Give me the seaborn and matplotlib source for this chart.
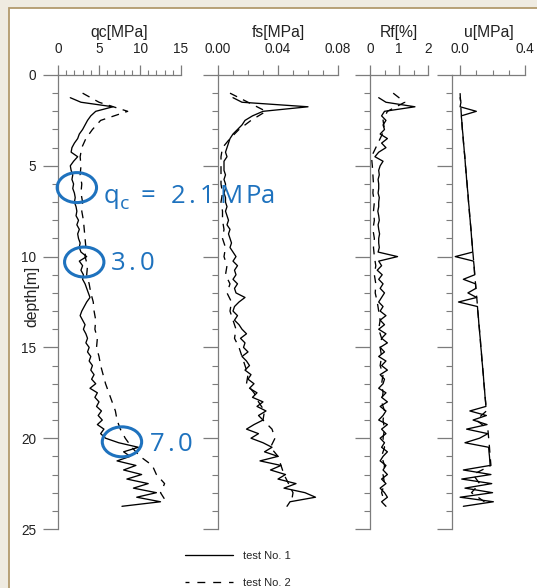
import numpy as np
import pandas as pd
import matplotlib
matplotlib.use("Agg")
import matplotlib.pyplot as plt
import seaborn as sns
from matplotlib.patches import Ellipse, Rectangle
from matplotlib.lines import Line2D
from matplotlib.ticker import MultipleLocator

# ---------------- data ----------------
# test No. 1 : every 0.25 m from 1.25 m to 23.75 m
depth1 = np.round(np.arange(1.25, 23.76, 0.25), 2)
qc1 = [1.5, 2.8, 6.7, 4.6,
       4.0, 3.6, 3.3, 3.0,
       2.6, 2.4, 2.0, 1.7,
       1.6, 2.4, 1.9, 1.5,
       1.6, 1.8, 1.7, 1.9,
       1.8, 2.0, 2.1, 2.0,
       2.2, 2.3, 2.2, 2.5,
       2.3, 2.6, 2.4, 2.5,
       2.7, 2.6, 2.8, 3.5,
       2.6, 3.0, 2.8, 3.1,
       3.0, 3.3, 3.5, 3.7,
       3.9, 3.5, 3.2, 2.9,
       2.7, 3.0, 3.3, 3.1,
       3.4, 3.6, 3.4, 3.8,
       3.6, 4.0, 3.8, 4.2,
       4.0, 4.4, 4.1, 4.6,
       3.9, 4.8, 4.5, 5.0,
       4.7, 5.3, 4.9, 5.4,
       4.8, 5.6, 5.2, 5.8,
       7.4, 9.8, 8.0, 8.8,
       7.2, 9.5, 8.0, 10.2,
       8.4, 11.0, 9.2, 12.0,
       9.6, 12.5, 7.8]
fs1 = [0.010, 0.016, 0.060, 0.030,
       0.023, 0.018, 0.016, 0.013,
       0.010, 0.008, 0.007, 0.006,
       0.005, 0.006, 0.004, 0.004,
       0.004, 0.005, 0.004, 0.005,
       0.005, 0.004, 0.005, 0.005,
       0.006, 0.005, 0.006, 0.007,
       0.006, 0.008, 0.007, 0.008,
       0.009, 0.008, 0.010, 0.012,
       0.010, 0.013, 0.011, 0.012,
       0.010, 0.013, 0.011, 0.012,
       0.018, 0.014, 0.011, 0.010,
       0.013, 0.011, 0.014, 0.016,
       0.019, 0.015, 0.018, 0.017,
       0.020, 0.016, 0.019, 0.021,
       0.018, 0.022, 0.020, 0.024,
       0.021, 0.026, 0.023, 0.030,
       0.026, 0.032, 0.027, 0.030,
       0.024, 0.019, 0.027, 0.022,
       0.030, 0.036, 0.031, 0.040,
       0.028, 0.042, 0.035, 0.045,
       0.040, 0.052, 0.044, 0.058,
       0.065, 0.048, 0.046]
rf1 = [0.30, 0.55, 1.55, 0.50,
       0.40, 0.55, 0.45, 0.50,
       0.35, 0.60, 0.40, 0.55,
       0.30, 0.17, 0.45, 0.35,
       0.30, 0.32, 0.28, 0.30,
       0.30, 0.28, 0.32, 0.30,
       0.30, 0.27, 0.30, 0.32,
       0.28, 0.30, 0.33, 0.30,
       0.30, 0.32, 0.28, 0.95,
       0.30, 0.40, 0.25, 0.42,
       0.30, 0.45, 0.35, 0.50,
       0.40, 0.30, 0.45, 0.35,
       0.55, 0.35, 0.50, 0.30,
       0.55, 0.40, 0.60, 0.35,
       0.50, 0.30, 0.55, 0.40,
       0.60, 0.35, 0.50, 0.45,
       0.30, 0.55, 0.40, 0.60,
       0.35, 0.55, 0.45, 0.30,
       0.60, 0.40, 0.55, 0.35,
       0.50, 0.40, 0.60, 0.45,
       0.35, 0.55, 0.45, 0.60,
       0.40, 0.55, 0.35, 0.50,
       0.60, 0.40, 0.55]
u1 = [0.000, 0.005, 0.000, 0.100,
      0.007, 0.010, 0.012, 0.014,
      0.017, 0.019, 0.021, 0.024,
      0.026, 0.029, 0.031, 0.033,
      0.036, 0.038, 0.040, 0.043,
      0.045, 0.048, 0.050, 0.052,
      0.055, 0.057, 0.059, 0.062,
      0.064, 0.067, 0.069, 0.071,
      0.074, 0.076, 0.078, -0.030,
      0.083, 0.086, 0.088, 0.090,
      0.020, 0.095, 0.097, 0.048,
      0.102, -0.010, 0.107, 0.109,
      0.112, 0.114, 0.116, 0.119,
      0.121, 0.124, 0.126, 0.128,
      0.131, 0.133, 0.135, 0.138,
      0.140, 0.143, 0.145, 0.147,
      0.150, 0.152, 0.154, 0.157,
      0.159, 0.060, 0.162, 0.080,
      0.166, 0.040, 0.171, 0.120,
      0.030, 0.176, 0.178, 0.181,
      0.183, 0.185, 0.020, 0.190,
      0.010, 0.195, 0.030, 0.200,
      0.000, 0.205, 0.020]

# test No. 2 : every 0.5 m from 1.0 m to 23.5 m
depth2 = np.round(np.arange(1.0, 23.51, 0.5), 2)
qc2 = [3.0, 5.0, 8.5, 5.2, 4.2, 3.4, 2.9, 2.7, 2.8, 2.7,
       2.9, 2.8, 3.0, 2.9, 3.1, 3.2, 3.3, 3.4, 3.3, 3.6,
       3.5, 3.8, 4.0, 4.3, 4.4, 4.6, 4.5, 4.8, 4.7, 5.0,
       5.2, 5.5, 5.8, 6.2, 6.6, 7.0, 7.2, 7.6, 8.2, 9.0,
       10.0, 11.5, 12.0, 13.0, 12.5, 13.2]
fs2 = [0.008, 0.020, 0.032, 0.022, 0.014, 0.008, 0.003, 0.002, 0.002, 0.002,
       0.002, 0.003, 0.002, 0.003, 0.003, 0.004, 0.003, 0.005, 0.004, 0.006,
       0.005, 0.008, 0.006, 0.009, 0.008, 0.010, 0.012, 0.011, 0.014, 0.016,
       0.018, 0.020, 0.019, 0.024, 0.027, 0.031, 0.030, 0.036, 0.038, 0.035,
       0.040, 0.042, 0.044, 0.047, 0.050, 0.049]
rf2 = [0.80, 1.20, 0.60, 0.45, 0.50, 0.35, 0.20, 0.05, 0.08, 0.10,
       0.12, 0.10, 0.15, 0.12, 0.15, 0.10, 0.15, 0.12, 0.15, 0.20,
       0.15, 0.20, 0.18, 0.25, 0.30, 0.35, 0.30, 0.40, 0.35, 0.40,
       0.35, 0.45, 0.40, 0.45, 0.40, 0.50, 0.45, 0.50, 0.45, 0.50,
       0.40, 0.50, 0.45, 0.50, 0.40, 0.50]
u2 = [0.000, 0.003, 0.006, 0.010, 0.014, 0.019, 0.024, 0.029, 0.033, 0.038,
      0.043, 0.048, 0.052, 0.057, 0.062, 0.067, 0.071, 0.076, 0.081, 0.086,
      0.090, 0.095, 0.100, 0.105, 0.109, 0.114, 0.119, 0.124, 0.128, 0.133,
      0.138, 0.143, 0.147, 0.152, 0.157, 0.162, 0.100, 0.171, 0.176, 0.181,
      0.185, 0.190, 0.080, 0.120, 0.070, 0.150]

test_names = ["test No. 1", "test No. 2"]
var_labels = ["qc[MPa]", "fs[MPa]", "Rf[%]", "u[MPa]"]
tick_values = [[0, 5, 10, 15], [0.00, 0.04, 0.08], [0, 1, 2], [0.0, 0.4]]
tick_labels = [["0", "5", "10", "15"], ["0.00", "0.04", "0.08"], ["0", "1", "2"], ["0.0", "0.4"]]
annot_texts = ["qc=2.1MPa", "3.0", "7.0"]

# ---------------- build long-form table ----------------
df = pd.concat([
    pd.DataFrame({"depth": depth1, "qc": qc1, "fs": fs1, "rf": rf1, "u": u1, "test": test_names[0]}),
    pd.DataFrame({"depth": depth2, "qc": qc2, "fs": fs2, "rf": rf2, "u": u2, "test": test_names[1]}),
], ignore_index=True)

# ---------------- figure ----------------
sns.set_theme(style="white")
plt.rcParams['font.family'] = ['Liberation Sans', 'DejaVu Sans']

W, H = 537, 588
fig = plt.figure(figsize=(W / 100, H / 100), dpi=100)
fig.patch.set_facecolor('#EFEBE1')
fig.add_artist(Rectangle((9 / W, -0.01), 1.0, 1 - 8 / H + 0.01, transform=fig.transFigure,
                         facecolor='white', edgecolor='#B29A6C', lw=1.3, zorder=0))

TOP, BOT = 75, 529
panels = [(58, 181), (218, 338), (370, 428), (452, 525)]
xlims = [(0, 15), (0, 0.08), (0, 2), (-0.05, 0.4)]
minors = [1, 0.01, 0.5, 0.1]
cols = ["qc", "fs", "rf", "u"]
gray = '#7c7c7c'
txt = '#222222'
dash_map = {test_names[0]: "", test_names[1]: (6, 5)}

axes = []
for i, (x0, x1) in enumerate(panels):
    ax = fig.add_axes([x0 / W, 1 - BOT / H, (x1 - x0) / W, (BOT - TOP) / H])
    ax.set_facecolor('none')
    sns.lineplot(data=df, x=cols[i], y="depth", style="test", dashes=dash_map,
                 color='black', linewidth=0.95, estimator=None, orient='y',
                 legend=False, ax=ax)
    ax.set_xlim(*xlims[i])
    ax.set_ylim(25, 0)
    for s in ['right', 'bottom']:
        ax.spines[s].set_visible(False)
    for s in ['left', 'top']:
        ax.spines[s].set_color(gray)
        ax.spines[s].set_linewidth(0.9)
    ax.xaxis.set_ticks_position('top')
    ax.xaxis.set_label_position('top')
    ax.set_xticks(tick_values[i], tick_labels[i])
    ax.xaxis.set_minor_locator(MultipleLocator(minors[i]))
    ax.set_yticks([0, 5, 10, 15, 20, 25])
    ax.yaxis.set_minor_locator(MultipleLocator(1))
    ax.tick_params(axis='x', which='major', top=True, bottom=False, labeltop=True,
                   labelbottom=False, direction='out', length=7.2, width=0.9,
                   color=gray, pad=6.3, labelsize=9.8, labelcolor=txt)
    ax.tick_params(axis='x', which='minor', top=True, bottom=False, direction='out',
                   length=3.6, width=0.8, color=gray)
    ax.tick_params(axis='y', which='major', left=True, right=False, direction='out',
                   length=10.8, width=0.9, color=gray, pad=5.0, labelsize=9.8,
                   labelcolor=txt, labelleft=(i == 0))
    ax.tick_params(axis='y', which='minor', left=True, right=False, direction='out',
                   length=4.3, width=0.8, color=gray)
    ax.set_xlabel(var_labels[i], fontsize=11.3, color=txt, labelpad=4.0)
    ax.set_ylabel("")
    ax.grid(False)
    axes.append(ax)

ax1 = axes[0]
ax1.set_ylabel("depth[m]", fontsize=11.3, color=txt)
ax1.yaxis.set_label_coords(-0.155, 0.513)

# ---------------- blue annotations ----------------
blue = '#1E72BE'
ell_centers = [(2.3, 6.2), (3.2, 10.3), (7.8, 20.2)]
for (cx, cy) in ell_centers:
    ax1.add_patch(Ellipse((cx, cy), width=4.8, height=1.65, fill=False, edgecolor=blue,
                          lw=2.2, clip_on=False, zorder=10))

# letter-spaced label text: (left pixel, is_subscript) per character, and baseline pixel
glyph_layout = [
    ([(104, 0), (120, 1), (141, 0), (171, 0), (188, 0), (200, 0), (220, 0), (245, 0), (261, 0)], 203),
    ([(111, 0), (128, 0), (140, 0)], 270),
    ([(150, 0), (167, 0), (178, 0)], 451),
]
for text, (glyphs, base) in zip(annot_texts, glyph_layout):
    for ch, (gx, sub) in zip(text, glyphs):
        fig.text(gx / W, 1 - (base + (6 if sub else 0)) / H, ch, color=blue,
                 fontsize=14 if sub else 18.5, family=['Open Sans', 'DejaVu Sans'],
                 va='baseline', ha='left', zorder=11)

# ---------------- legend ----------------
handles = [Line2D([], [], color='black', lw=0.95),
           Line2D([], [], color='black', lw=0.95, ls=(3, (6, 6)))]
fig.legend(handles=handles, labels=test_names, loc='upper left',
           bbox_to_anchor=(176 / W, 1 - 542 / H), frameon=False, fontsize=8,
           handlelength=4.3, handletextpad=0.9, labelspacing=1.55, borderpad=0.3)

fig.savefig("out.png", dpi=100, facecolor=fig.get_facecolor())
